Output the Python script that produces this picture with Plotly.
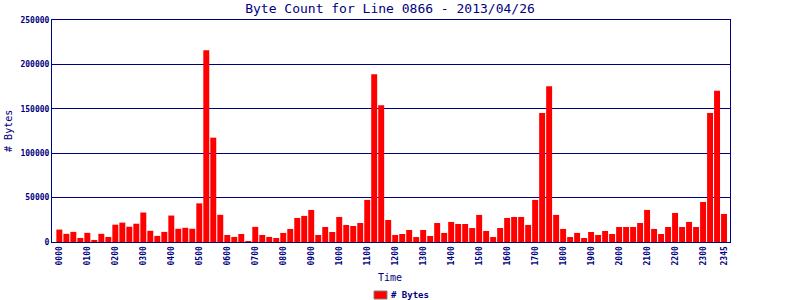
import plotly.graph_objects as go

times = [f"{h:02d}{m:02d}" for h in range(24) for m in (0, 15, 30, 45)]
byte_counts = [
    14000, 9200, 11400, 4600, 10300, 2300, 9200, 5700,
    19500, 21800, 17200, 20600, 33200, 12600, 6900, 11400,
    29800, 14900, 16000, 14900, 43500, 216000, 117500, 30600,
    7900, 5700, 9000, 1100, 17000, 7900, 5700, 4500,
    10200, 14700, 27100, 29400, 36100, 7900, 16900, 11300,
    28200, 19200, 18000, 21400, 47400, 189000, 154000, 24800,
    7900, 9000, 13500, 5600, 13500, 6800, 21400, 10200,
    22600, 20300, 20300, 15800, 30500, 12400, 5600, 15800,
    27100, 28200, 28200, 19200, 47400, 145300, 175500, 30500,
    14700, 5600, 10200, 4500, 11300, 7900, 12400, 9000,
    16900, 16900, 16900, 21400, 36100, 14700, 9000, 16900,
    32700, 16900, 22600, 16900, 45100, 145300, 170400, 31600,
]
tick_labels = [t for i, t in enumerate(times) if i % 4 == 0] + ["2345"]
tick_positions = [i for i in range(len(times)) if i % 4 == 0] + [len(times) - 1]
y_ticks = [0, 50000, 100000, 150000, 200000, 250000]
series_name = "# Bytes"

NAVY = "#000080"
FONT = "DejaVu Sans Mono"

# plot area in pixels: left 52, right 730, top 20, bottom 242
def px_x(p):
    return (p - 52) / 678.0

def px_y(p):
    return (242 - p) / 222.0

fig = go.Figure()
fig.add_trace(go.Bar(
    x=list(range(len(times))), y=byte_counts, name=series_name,
    marker=dict(color="#FF0000", line=dict(width=0)),
    showlegend=False, hoverinfo="skip",
))

fig.update_layout(
    width=800, height=300,
    margin=dict(l=52, r=70, t=20, b=58, autoexpand=False),
    paper_bgcolor="white", plot_bgcolor="white",
    bargap=0.15,
    title=dict(text="Byte Count for Line 0866 - 2013/04/26",
               x=0.4875, xanchor="center", y=0.972, yanchor="middle", yref="container",
               font=dict(family=FONT, size=13, color=NAVY)),
    font=dict(family=FONT, color=NAVY),
    xaxis=dict(
        range=[-1.05, 95.85], tickmode="array", tickvals=tick_positions, ticktext=tick_labels,
        tickangle=-90, tickfont=dict(family=FONT, size=8, color=NAVY, weight="bold"),
        showgrid=False, showline=True, linecolor=NAVY, linewidth=1, mirror=True,
        ticks="", zeroline=False, automargin=False,
    ),
    yaxis=dict(
        range=[0, 250000], tickmode="array", tickvals=y_ticks,
        ticktext=[str(v) for v in y_ticks],
        tickfont=dict(family=FONT, size=8, color=NAVY, weight="bold"),
        showgrid=True, gridcolor=NAVY, gridwidth=1,
        showline=True, linecolor=NAVY, linewidth=1, mirror=True,
        ticks="", zeroline=False, automargin=False,
    ),
    shapes=[
        dict(type="rect", xref="paper", yref="paper",
             x0=px_x(374), x1=px_x(387), y0=px_y(299), y1=px_y(291),
             fillcolor="#FF0000", line=dict(color="#808080", width=1)),
    ],
    annotations=[
        dict(text="# Bytes", xref="paper", yref="paper", x=-0.065, y=0.5,
             textangle=-90, showarrow=False, xanchor="center", yanchor="middle",
             font=dict(family=FONT, size=10, color=NAVY)),
        dict(text="Time", xref="paper", yref="paper", x=0.498, y=-0.162,
             showarrow=False, xanchor="center", yanchor="middle",
             font=dict(family=FONT, size=10, color=NAVY)),
        dict(text=series_name, xref="paper", yref="paper", x=px_x(389), y=px_y(295),
             showarrow=False, xanchor="left", yanchor="middle",
             font=dict(family=FONT, size=9, color=NAVY, weight="bold")),
    ],
)

fig.write_html("out.html")
